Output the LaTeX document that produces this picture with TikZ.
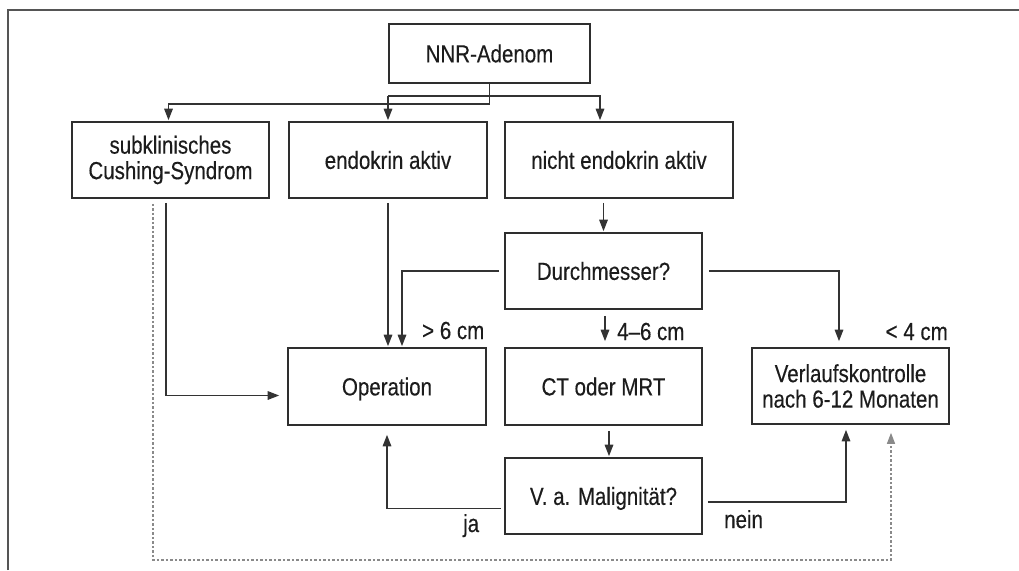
\documentclass[tikz,border=0pt]{standalone}
\usepackage{fontspec}
\setmainfont{Liberation Sans}[FakeStretch=0.83,FakeBold=0.3]
\usetikzlibrary{arrows.meta}
\definecolor{inkline}{HTML}{333333}
\definecolor{inkbox}{HTML}{2E2E2E}
\definecolor{inktext}{HTML}{1C1C1C}
\definecolor{inkdot}{HTML}{8A8A8A}
\definecolor{inkframe}{HTML}{555555}
\begin{document}
\begin{tikzpicture}[x=1pt,y=-1pt,
  every node/.style={font=\fontsize{24.7pt}{25.5pt}\selectfont, text=inktext},
  stepbox/.style={draw=inkbox, line width=1.6pt, rectangle, inner sep=0pt,
    text height=17.7pt, text depth=0pt},
  twobox/.style={draw=inkbox, line width=1.6pt, rectangle, inner sep=0pt, align=center},
  conn/.style={draw=inkline, line width=1.5pt,
    -{Triangle[length=11.5pt,width=8.5pt]}, shorten >=1pt},
  dotconn/.style={draw=inkdot, line width=1.3pt, dash pattern=on 2.5pt off 2pt,
    -{Triangle[length=11pt,width=8pt]}, shorten >=1pt},
  lbl/.style={inner sep=0pt}
]
\useasboundingbox (0,0) rectangle (1019,570);

% outer frame (top and left edges)
\draw[draw=inkframe, line width=1.5pt] (8,570) -- (8,10) -- (1019,10);

% boxes
\node[stepbox, minimum width=201pt, minimum height=59pt] (nnr) at (489.5,53.5) {NNR-Adenom};
\node[twobox, minimum width=197pt, minimum height=76pt] (subkl) at (170.5,160) {subklinisches\\Cushing-Syndrom};
\node[stepbox, minimum width=198pt, minimum height=76pt] (endo) at (388,160) {endokrin aktiv};
\node[stepbox, minimum width=228pt, minimum height=76pt] (nicht) at (619,160) {nicht endokrin aktiv};
\node[stepbox, minimum width=197pt, minimum height=76pt] (durch) at (603.5,271) {Durchmesser?};
\node[stepbox, minimum width=198pt, minimum height=77pt] (oper) at (387,386.5) {Operation};
\node[stepbox, minimum width=197pt, minimum height=77pt] (ct) at (603.5,386.5) {CT oder MRT};
\node[twobox, minimum width=197pt, minimum height=76pt] (verl) at (850.5,386) {Verlaufskontrolle\\nach 6-12 Monaten};
\node[stepbox, minimum width=197pt, minimum height=76pt] (malig) at (603.5,496) {V. a. Malignität?};

% branching below the first box
\draw[conn] (nnr.south) -- ++(0,20) -| ([xshift=-2pt]subkl.north);
\draw[conn] ([yshift=-12pt]nnr.south -| endo.north) -- (endo.north);
\draw[conn] ([yshift=-12pt]nnr.south -| endo.north) -| ([xshift=-19pt]nicht.north);

% vertical flow
\draw[conn] ([yshift=-4pt]nicht.south -| durch.north) -- (durch.north);
\draw[conn] ([yshift=-4pt]endo.south) -- (endo.south |- oper.north);
\draw[conn] ([xshift=-5pt]durch.west) -| ([xshift=15pt]oper.north);
\draw[conn] ([xshift=1.5pt,yshift=-6pt]durch.south) -- ([xshift=1.5pt,yshift=5pt]ct.north);
\draw[conn] ([xshift=6pt]durch.east) -| ([xshift=-11.5pt,yshift=5pt]verl.north);
\draw[conn] ([xshift=-4.5pt,yshift=-4pt]subkl.south) |- ([xshift=-7pt,yshift=-9pt]oper.west);
\draw[conn] ([xshift=5.5pt,yshift=-5pt]ct.south) -- ([xshift=5.5pt]malig.north);
\draw[conn] ([xshift=-3pt,yshift=-12.5pt]malig.west) -| ([yshift=-8pt]oper.south);
\draw[conn] ([xshift=5pt,yshift=-6pt]malig.east) -| ([xshift=-4.5pt,yshift=-4pt]verl.south);

% dotted return path
\coordinate (dl) at (153,560);
\coordinate (dr) at (891,560);
\draw[dotconn] ([yshift=-5pt]subkl.south -| dl) -- (dl) -- (dr) -- ([yshift=-7pt]verl.south -| dr);

% edge labels
\node[lbl, anchor=base west] (l6) at (422,339) {> 6 cm};
\node[lbl, anchor=base west] (l46) at (617,340) {4–6 cm};
\node[lbl, anchor=base east] (l4) at (948,340) {< 4 cm};
\node[lbl, anchor=base west] (lja) at (463,532) {ja};
\node[lbl, anchor=base west] (lnein) at (724,528) {nein};
\end{tikzpicture}
\end{document}
